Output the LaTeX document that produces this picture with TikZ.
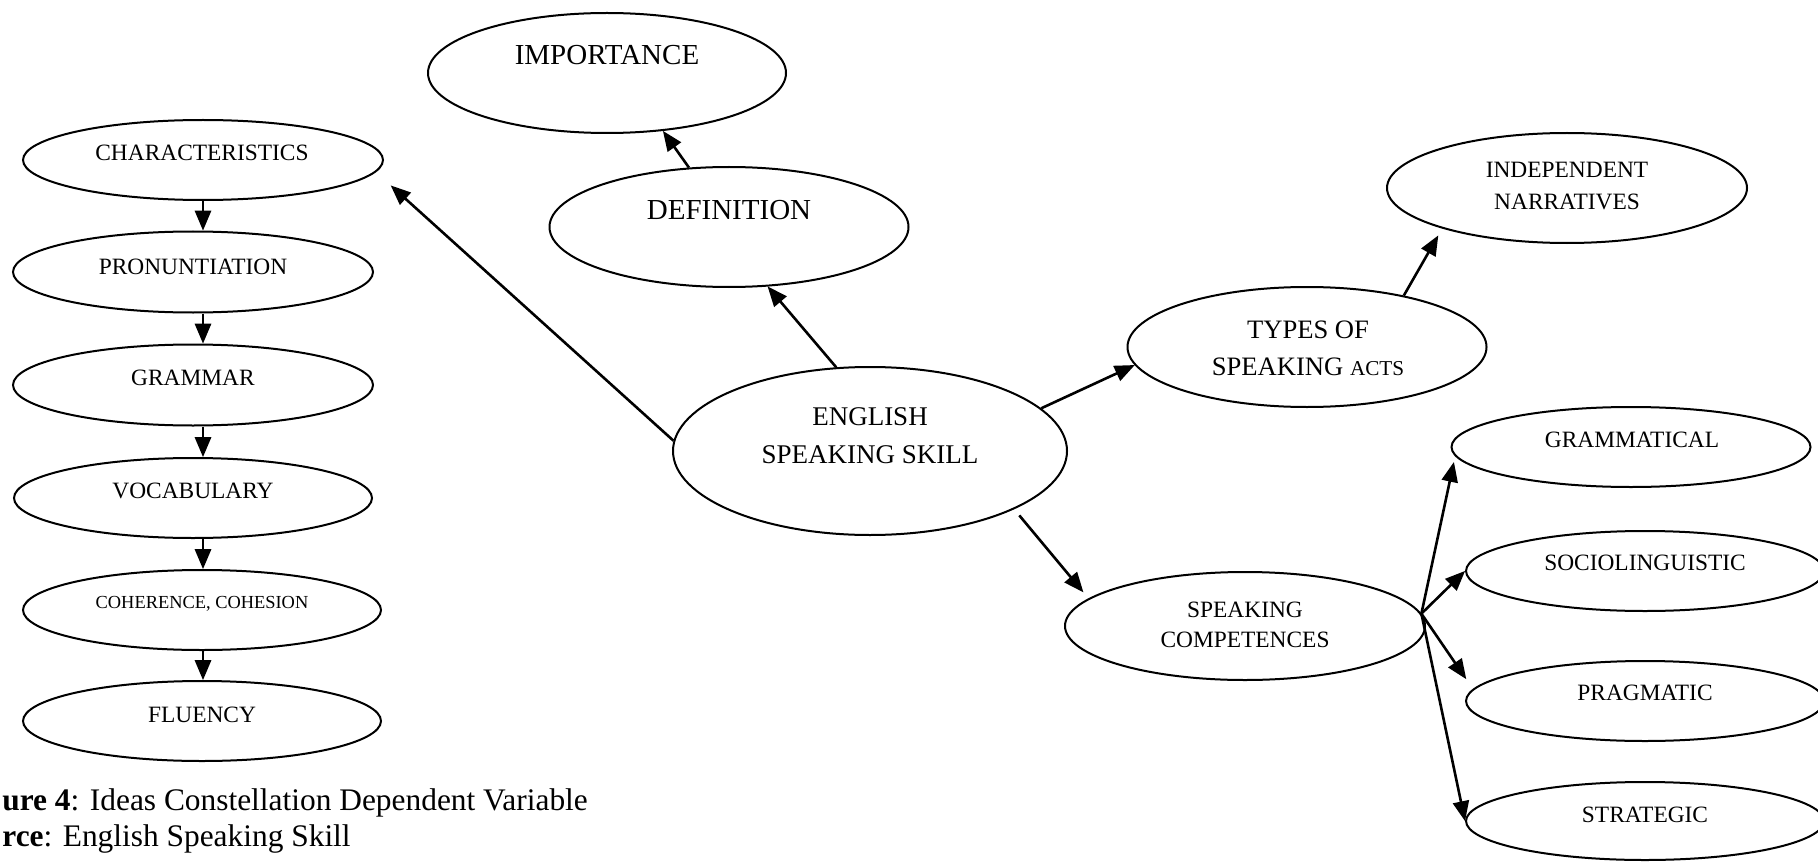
\documentclass[tikz,border=0pt]{standalone}
\usepackage{fontspec}
\setmainfont{Liberation Serif}
\usetikzlibrary{arrows, shapes}

\tikzset{
  oval/.style={draw, ellipse, line width=1pt, inner sep=0pt},
  link/.style={-triangle 45, line width=1.3pt},
  word/.style={font=\fontsize{11.7}{14}\selectfont, align=center},
}

\begin{document}
\begin{tikzpicture}[x=0.5pt, y=-0.5pt]
  \useasboundingbox (0,0) rectangle (1818,861);
  \clip (0,0) rectangle (1818,861);

  % centre
  \node [oval, minimum width=197pt, minimum height=84pt] (ess) at (870,451) {};
  \node [word, font=\fontsize{13.5}{19}\selectfont] (essT) at (870,436) {ENGLISH\\SPEAKING SKILL};

  % top
  \node [oval, minimum width=179.5pt, minimum height=60pt] (def) at (729,227) {};
  \node [word, font=\fontsize{14.5}{17}\selectfont] (defT) at (729,210) {DEFINITION};
  \node [oval, minimum width=179pt, minimum height=60pt] (imp) at (607,73) {};
  \node [word, font=\fontsize{14.5}{17}\selectfont] (impT) at (607,55) {IMPORTANCE};

  % left column
  \node [oval, minimum width=180pt, minimum height=40pt] (chr) at (203,160) {};
  \node [word] (chrT) at (202,153) {CHARACTERISTICS};
  \node [oval, minimum width=180pt, minimum height=40.5pt] (pron) at (193,272) {};
  \node [word] (pronT) at (193,267) {PRONUNTIATION};
  \node [oval, minimum width=180pt, minimum height=40.5pt] (gram) at (193,385) {};
  \node [word] (gramT) at (193,378) {GRAMMAR};
  \node [oval, minimum width=179pt, minimum height=40pt] (voc) at (193,498) {};
  \node [word] (vocT) at (193,491) {VOCABULARY};
  \node [oval, minimum width=179pt, minimum height=40pt] (coh) at (202,610) {};
  \node [word, font=\fontsize{9.2}{11}\selectfont] (cohT) at (202,604) {COHERENCE, COHESION};
  \node [oval, minimum width=179pt, minimum height=40pt] (flu) at (202,721) {};
  \node [word] (fluT) at (202,715) {FLUENCY};

  % right side
  \node [oval, minimum width=179.5pt, minimum height=60pt] (typ) at (1307,347) {};
  \node [word, font=\fontsize{13.3}{18.5}\selectfont] (typT) at (1308,348) {TYPES OF\\SPEAKING {\fontsize{10.6}{12}\selectfont ACTS}};
  \node [oval, minimum width=180pt, minimum height=55pt] (ind) at (1567,188) {};
  \node [word, font=\fontsize{11.7}{16}\selectfont] (indT) at (1567,186) {INDEPENDENT\\NARRATIVES};
  \node [oval, minimum width=180pt, minimum height=54pt] (com) at (1245,626) {};
  \node [word, font=\fontsize{11.7}{15}\selectfont] (comT) at (1245,625) {SPEAKING\\COMPETENCES};

  \node [oval, minimum width=179.5pt, minimum height=40pt] (gmt) at (1631,447) {};
  \node [word] (gmtT) at (1632,440) {GRAMMATICAL};
  \node [oval, minimum width=179pt, minimum height=40pt] (soc) at (1645,571) {};
  \node [word] (socT) at (1645,563) {SOCIOLINGUISTIC};
  \node [oval, minimum width=179pt, minimum height=40pt] (pra) at (1645,701) {};
  \node [word] (praT) at (1645,693) {PRAGMATIC};
  \node [oval, minimum width=179pt, minimum height=39pt] (str) at (1645,821) {};
  \node [word] (strT) at (1645,815) {STRATEGIC};

  % caption
  \node [anchor=base west, inner sep=0pt, font=\fontsize{15.7}{18}\selectfont] (fig) at (2,810) {\textbf{ure 4}: Ideas Constellation Dependent Variable};
  \node [anchor=base west, inner sep=0pt, font=\fontsize{15.7}{18}\selectfont] (src) at (2,846) {\textbf{rce}: English Speaking Skill};

  % arrows
  \draw [link, shorten >=10pt] (ess.177) -- (chr.-4);
  \draw [link] (ess.112) -- (def.-57);
  \draw [link] (def.124) -- (imp.-46);
  \draw [link] (ess.14) -- (typ.186);
  \draw [link, shorten >=4pt] (typ.28) -- (ind.198);
  \draw [link, shorten <=4pt, shorten >=4pt] (ess.-22) -- (com.170);

  \draw [link] (chr.south) -- (pron.north -| chr.south);
  \draw [link] (pron.south -| chr.south) -- (gram.north -| chr.south);
  \draw [link] (gram.south -| chr.south) -- (voc.north -| chr.south);
  \draw [link] (voc.south -| chr.south) -- (coh.north -| chr.south);
  \draw [link] (coh.south -| chr.south) -- (flu.north -| chr.south);

  \draw [link, shorten >=3pt] (com.4) -- (gmt.183);
  \draw [link] (com.4) -- (soc.west);
  \draw [link, shorten >=6pt] (com.4) -- (pra.176);
  \draw [link] (com.4) -- (str.west);
\end{tikzpicture}
\end{document}
